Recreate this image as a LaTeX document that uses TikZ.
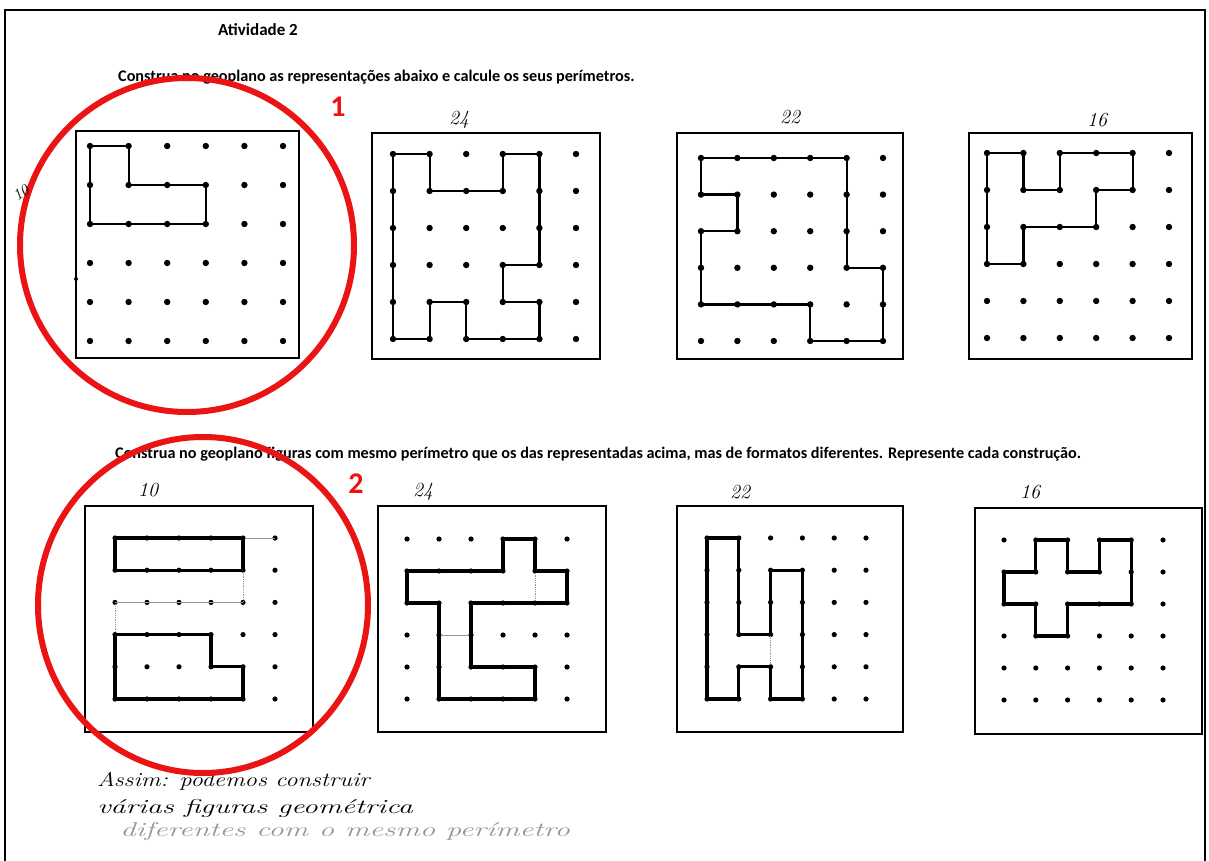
\documentclass[tikz,border=0pt]{standalone}
\usepackage{fontspec}
\setsansfont{Carlito}
\definecolor{markred}{RGB}{235,20,20}
\definecolor{faint}{RGB}{150,150,150}
\tikzset{
  page/.style={line width=2pt},
  boardframe/.style={line width=1.8pt},
  figA/.style={line width=2.2pt, line join=round},
  figB/.style={line width=3.2pt, line join=round},
  ghost/.style={line width=0.8pt, faint},
  ring/.style={line width=6pt, markred},
  printed/.style={font=\sffamily\bfseries\fontsize{16.2}{18}\selectfont, inner sep=0pt, anchor=west},
  hand/.style={font=\itshape\fontsize{20}{22}\selectfont, inner sep=0pt},
  handtext/.style={font=\itshape\fontsize{20}{22}\selectfont, inner sep=0pt, anchor=west, transform shape},
  bignum/.style={font=\sffamily\bfseries\fontsize{30}{32}\selectfont, markred, inner sep=0pt}
}
% #1 x0 #2 y0 #3 x1 #4 y1 (frame); #5 ox #6 oy (first dot); #7 sx #8 sy (spacing); #9 drawing
\newcommand\geoboard[9]{%
  \draw[boardframe] (#1,#2) rectangle (#3,#4);
  \begin{scope}[shift={(#5,#6)}, x=#7pt, y=-#8pt]
    \foreach \i in {0,...,5}{\foreach \j in {0,...,5}{\fill (\i,\j) circle (\dotr);}}
    #9
  \end{scope}}
\def\dotr{3.2pt}
\begin{document}
\begin{tikzpicture}[x=1pt,y=-1pt]
\useasboundingbox[fill=white] (0,0) rectangle (1209,861);
\draw[page] (5,861) -- (5,10) -- (1205,10) -- (1205,861);

\node[printed, font=\sffamily\bfseries\fontsize{17}{19}\selectfont] (title) at (218,30) {Atividade 2};
\node[printed] (instr1) at (118,77) {Construa no geoplano as representações abaixo e calcule os seus perímetros.};
\node[printed] (instr2) at (115,454) {Construa no geoplano figuras com mesmo perímetro que os das representadas acima, mas de formatos diferentes. Represente cada construção.};

% ---- row 1
\geoboard{76}{131}{299}{358}{90}{146}{38.6}{39}{%
  \draw[figA] (0,0)--(1,0)--(1,1)--(3,1)--(3,2)--(0,2)--cycle;}
\geoboard{372}{133}{600}{359}{393}{154}{36.6}{37}{%
  \draw[figA] (0,0)--(1,0)--(1,1)--(3,1)--(3,0)--(4,0)--(4,3)--(3,3)--(3,4)--(4,4)--(4,5)--(2,5)--(2,4)--(1,4)--(1,5)--(0,5)--cycle;}
\geoboard{677}{133}{903}{359}{701}{158}{36.4}{36.6}{%
  \draw[figA] (0,0)--(4,0)--(4,3)--(5,3)--(5,5)--(3,5)--(3,4)--(0,4)--(0,2)--(1,2)--(1,1)--(0,1)--cycle;}
\geoboard{969}{133}{1192}{359}{987}{153}{36.4}{37}{%
  \draw[figA] (0,0)--(1,0)--(1,1)--(2,1)--(2,0)--(4,0)--(4,1)--(3,1)--(3,2)--(1,2)--(1,3)--(0,3)--cycle;}
\fill (76,279) circle (2pt);

\node[hand] (p24a) at (459,120) {24};
\node[hand] (p22a) at (790,117) {22};
\node[hand] (p16a) at (1097,120) {16};

% ---- row 2
\def\dotr{2.6pt}
\geoboard{85}{506}{313}{732}{115}{538}{32}{32.2}{%
  \draw[ghost] (0,2)--(4,2) (4,0)--(5,0);
  \draw[ghost, densely dotted] (4,1)--(4,2) (0,2)--(0,3);
  \draw[figB] (0,0)--(4,0)--(4,1)--(0,1)--cycle;
  \draw[figB] (0,3)--(3,3)--(3,4)--(4,4)--(4,5)--(0,5)--cycle;}
\geoboard{378}{506}{606}{732}{407}{539}{32}{32}{%
  \draw[ghost] (1,3)--(2,3);
  \draw[ghost, densely dotted] (4,1)--(4,2);
  \draw[figB] (3,0)--(4,0)--(4,1)--(5,1)--(5,2)--(2,2)--(2,4)--(4,4)--(4,5)--(1,5)--(1,2)--(0,2)--(0,1)--(3,1)--cycle;}
\geoboard{677}{506}{903}{732}{707}{538}{31.8}{32.2}{%
  \draw[ghost, densely dotted] (2,3)--(2,4);
  \draw[figB] (0,0)--(1,0)--(1,3)--(2,3)--(2,1)--(3,1)--(3,5)--(2,5)--(2,4)--(1,4)--(1,5)--(0,5)--cycle;}
\geoboard{975}{508}{1202}{734}{1004}{540}{31.8}{32}{%
  \draw[figB] (1,0)--(2,0)--(2,1)--(3,1)--(3,0)--(4,0)--(4,2)--(2,2)--(2,3)--(1,3)--(1,2)--(0,2)--(0,1)--(1,1)--cycle;}

\node[hand] (p10b) at (148,490) {10};
\node[hand] (p24b) at (423,492) {24};
\node[hand] (p22b) at (740,492) {22};
\node[hand] (p16b) at (1030,492) {16};

% ---- conclusion (handwritten)
\node[handtext, xscale=1.23] (c1) at (97,781) {Assim: podemos construir};
\node[handtext, xscale=1.49] (c2) at (97,808) {várias figuras geométrica};
\node[handtext, xscale=1.53, faint] (c3) at (120,831) {diferentes com o mesmo perímetro};

% ---- red marks
\draw[ring] (187,245) circle (167);
\draw[ring] (203,605) ellipse (165 and 168);
\node[bignum] (n1) at (338,107) {1};
\node[bignum] (n2) at (356,484) {2};
\node[hand, font=\itshape\fontsize{16}{18}\selectfont, rotate=35] (p10a) at (21,193) {10};
\end{tikzpicture}
\end{document}
